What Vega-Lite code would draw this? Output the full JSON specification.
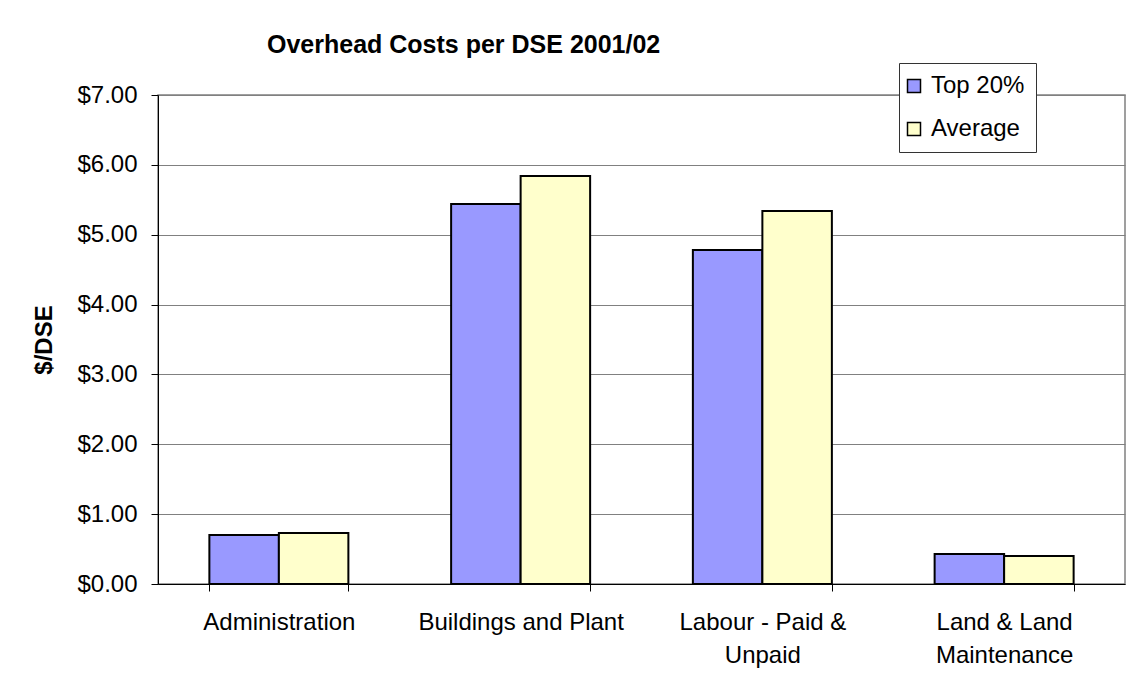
{
  "$schema": "https://vega.github.io/schema/vega-lite/v6.json",
  "width": 967,
  "height": 489,
  "autosize": "none",
  "padding": {"left": 158, "top": 95, "right": 6, "bottom": 93},
  "background": "white",
  "title": {
    "text": "Overhead Costs per DSE 2001/02",
    "anchor": "start",
    "frame": "group",
    "dx": 109,
    "dy": 57,
    "baseline": "alphabetic",
    "offset": 42,
    "font": "Liberation Sans",
    "fontSize": 25,
    "fontWeight": "bold",
    "color": "black"
  },
  "data": {
    "values": [
      {"category": "Administration", "series": "Top 20%", "value": 0.70},
      {"category": "Administration", "series": "Average", "value": 0.73},
      {"category": "Buildings and Plant", "series": "Top 20%", "value": 5.44},
      {"category": "Buildings and Plant", "series": "Average", "value": 5.84},
      {"category": "Labour - Paid & Unpaid", "series": "Top 20%", "value": 4.78},
      {"category": "Labour - Paid & Unpaid", "series": "Average", "value": 5.34},
      {"category": "Land & Land Maintenance", "series": "Top 20%", "value": 0.43},
      {"category": "Land & Land Maintenance", "series": "Average", "value": 0.40}
    ]
  },
  "mark": {"type": "bar", "stroke": "black", "strokeWidth": 2},
  "encoding": {
    "x": {
      "field": "category",
      "type": "nominal",
      "sort": null,
      "scale": {"paddingInner": 0.425, "paddingOuter": 0.2125},
      "axis": {
        "title": null,
        "labelAngle": 0,
        "labelFont": "Liberation Sans",
        "labelFontSize": 24,
        "labelColor": "black",
        "labelBaseline": "top",
        "labelPadding": 19,
        "labelLineHeight": 33,
        "labelLimit": 0,
        "labelExpr": "datum.label == 'Labour - Paid & Unpaid' ? ['Labour - Paid &', 'Unpaid'] : datum.label == 'Land & Land Maintenance' ? ['Land & Land', 'Maintenance'] : datum.label",
        "tickBand": "extent",
        "tickSize": 7,
        "tickColor": "black",
        "domainColor": "black",
        "domainWidth": 1,
        "grid": false
      }
    },
    "xOffset": {
      "field": "series",
      "type": "nominal",
      "sort": ["Top 20%", "Average"],
      "scale": {"paddingInner": 0, "paddingOuter": 0}
    },
    "y": {
      "field": "value",
      "type": "quantitative",
      "scale": {"domain": [0, 7], "nice": false},
      "axis": {
        "title": "$/DSE",
        "titleFont": "Liberation Sans",
        "titleFontSize": 24,
        "titleFontWeight": "bold",
        "titleColor": "black",
        "titleX": -102,
        "titleBaseline": "bottom",
        "format": "$.2f",
        "values": [0, 1, 2, 3, 4, 5, 6, 7],
        "labelFont": "Liberation Sans",
        "labelFontSize": 24,
        "labelColor": "black",
        "labelPadding": 14,
        "tickSize": 7,
        "tickColor": "black",
        "domainColor": "black",
        "grid": true,
        "gridColor": "#808080",
        "gridOpacity": 1,
        "gridWidth": 1
      }
    },
    "color": {
      "field": "series",
      "type": "nominal",
      "sort": ["Top 20%", "Average"],
      "scale": {"domain": ["Top 20%", "Average"], "range": ["#9999FF", "#FFFFCC"]},
      "legend": {
        "title": null,
        "orient": "none",
        "legendX": 741,
        "legendY": -32,
        "symbolType": "square",
        "symbolSize": 169,
        "symbolStrokeColor": "black",
        "symbolStrokeWidth": 1.5,
        "symbolOpacity": 1,
        "symbolOffset": -8,
        "labelFont": "Liberation Sans",
        "labelFontSize": 24,
        "labelColor": "black",
        "labelOffset": 5,
        "rowPadding": 19,
        "padding": 11,
        "fillColor": "white",
        "strokeColor": "#333333"
      }
    }
  },
  "config": {
    "view": {"stroke": "#808080", "strokeWidth": 1.5},
    "axis": {"domainWidth": 1, "tickWidth": 1}
  }
}
